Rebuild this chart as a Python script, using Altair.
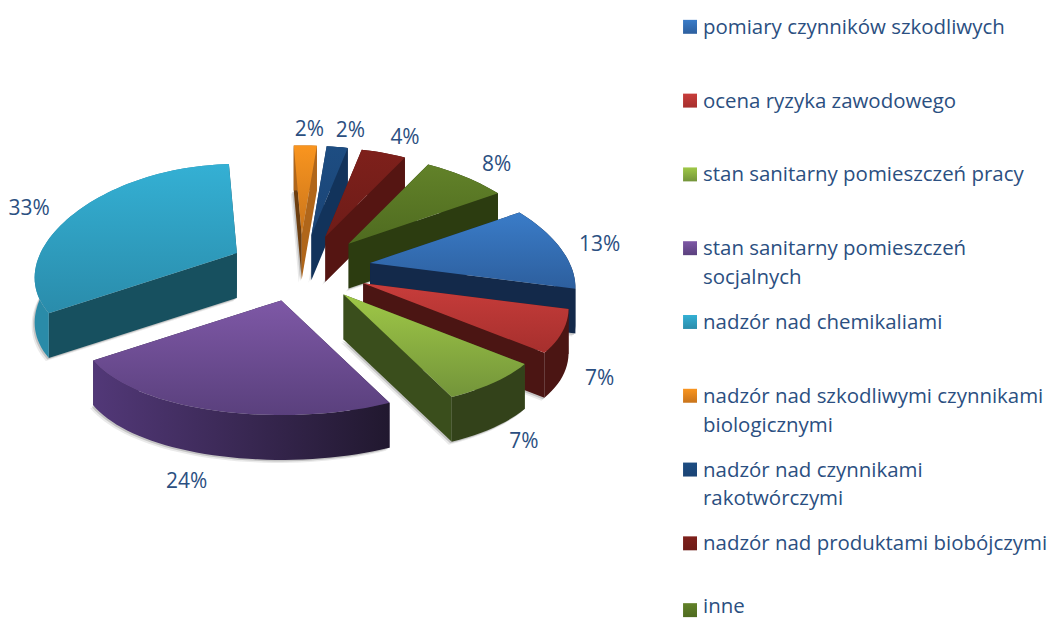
import math
import altair as alt
import pandas as pd

categories = ["pomiary czynników szkodliwych", "ocena ryzyka zawodowego", "stan sanitarny pomieszczeń pracy",
              "stan sanitarny pomieszczeń\nsocjalnych", "nadzór nad chemikaliami",
              "nadzór nad szkodliwymi czynnikami\nbiologicznymi", "nadzór nad czynnikami\nrakotwórczymi",
              "nadzór nad produktami biobójczymi", "inne"]
shares = [13, 7, 7, 22.6, 33.6, 2.3, 2.1, 4.4, 8]
labels = ["13%", "7%", "7%", "24%", "33%", "2%", "2%", "4%", "8%"]
top_a = ["#3a7cc8", "#c83d3b", "#9fc847", "#7e58a6", "#34b0d4", "#f9951f", "#1d4d82", "#7e201b", "#628229"]
top_b = ["#2d5f9e", "#a62f2d", "#73943a", "#5a407d", "#2a8cab", "#c9741b", "#1b4475", "#6e1c18", "#4f6b20"]
cut_end = ["#13294a", "#4b1513", "#3a4e1c", "#2e2145", "#17505f", "#b0661a", "#12335b", "#551512", "#2c3c10"]
cut_start = ["#13294a", "#4b1513", "#3a4e1c", "#2e2145", "#17505f", "#6d3e0f", "#12335b", "#551512", "#2c3c10"]
arc_a = ["#13294a", "#4b1513", "#33421a", "#523878", "#2a8ba8", "#b0661a", "#12335b", "#551512", "#2c3c10"]
arc_b = ["#13294a", "#4b1513", "#33421a", "#21182f", "#2a8ba8", "#b0661a", "#12335b", "#551512", "#2c3c10"]
draw_order = [5, 6, 7, 8, 4, 0, 1, 2, 3]

PW, PH = 672, 603
START = 57.6
CX, CY = 291, 260
EX, EY = 71, 33.6
R_RIGHT, R_LEFT, RY, KX, KY, DEPTH = 200, 197, 100.6, 0.238, 0.125, 45


def offset(t):
    a = math.radians(t)
    c = math.cos(a)
    s = math.sin(a)
    return (R_RIGHT if s > 0 else R_LEFT) * s / (1 + KX * c), -RY * c / (1 + KY * c)


x_scale = alt.Scale(domain=[0, PW], nice=False, zero=False)
y_scale = alt.Scale(domain=[PH, 0], nice=False, zero=False)


def poly(points, fill, opacity=1):
    df = pd.DataFrame({"x": [p[0] for p in points], "y": [p[1] for p in points],
                       "o": list(range(len(points)))})
    return alt.Chart(df).mark_line(fill=fill, fillOpacity=opacity, strokeWidth=0, interpolate="linear").encode(
        x=alt.X("x:Q", scale=x_scale, axis=None),
        y=alt.Y("y:Q", scale=y_scale, axis=None),
        order="o:Q")


def grad(a, b, x2, y2):
    return alt.LinearGradient(gradient="linear",
                              stops=[alt.GradientStop(color=a, offset=0), alt.GradientStop(color=b, offset=1)],
                              x1=0, x2=x2, y1=0, y2=y2)


def vgrad(a, b):
    return grad(a, b, 0, 1)


def hgrad(a, b):
    return grad(a, b, 1, 0)


cum = [START]
for s in shares:
    cum.append(cum[-1] + s * 3.6)

layers = []
label_rows = []
for i in draw_order:
    t0, t1 = cum[i], cum[i + 1]
    tm = (t0 + t1) / 2
    ax = CX + EX * math.sin(math.radians(tm))
    ay = CY - EY * math.cos(math.radians(tm))
    steps = max(4, int((t1 - t0) / 2))
    arc = []
    for k in range(steps + 1):
        dx, dy = offset(t0 + (t1 - t0) * k / steps)
        arc.append((ax + dx, ay + dy))
    down = [(p[0], p[1] + DEPTH) for p in arc]
    apex, apex_d = (ax, ay), (ax, ay + DEPTH)
    for sx, sy, op in ((-3, 3, 0.12), (-1.5, 1.5, 0.25)):
        layers.append(poly([(p[0] + sx, p[1] + sy) for p in [apex_d] + down], "#555555", op))
    layers.append(poly([apex, arc[0], down[0], apex_d], cut_start[i]))
    layers.append(poly([apex, arc[-1], down[-1], apex_d], cut_end[i]))
    layers.append(poly(arc + down[::-1], hgrad(arc_a[i], arc_b[i])))
    layers.append(poly([apex] + arc, vgrad(top_a[i], top_b[i])))
    dx, dy = offset(tm)
    a = math.radians(tm)
    s, c = math.sin(a), math.cos(a)
    lx = 40 * s ** 0.6 if s > 0 else 55 * s
    if c < -0.9:
        lx -= 12
    ly = -16 * c + (DEPTH + 20 * (-c - 0.7) if c < -0.3 else 0) + (6 if s < 0 else 0)
    label_rows.append({"x": ax + dx + lx, "y": ay + dy + ly, "t": labels[i]})

TEXT = "#2b4f81"
FONT = "Open Sans"
pct = alt.Chart(pd.DataFrame(label_rows)).mark_text(font=FONT, fontSize=21, color=TEXT).encode(
    x=alt.X("x:Q", scale=x_scale, axis=None),
    y=alt.Y("y:Q", scale=y_scale, axis=None),
    text="t:N")
pie = alt.layer(*layers, pct).properties(width=PW, height=PH)

legend_df = pd.DataFrame({"c": categories,
                          "row": [min(18 + 74 * k, 603) for k in range(9)],
                          "text_row": [min(18 + 74 * k, 599) for k in range(9)]})
squares = []
for i, c in enumerate(categories):
    squares.append(alt.Chart(legend_df[legend_df["c"] == c]).mark_square(size=196, opacity=1, fill=vgrad(top_a[i], top_b[i])).encode(
        x=alt.value(10),
        y=alt.Y("row:Q", scale=y_scale, axis=None)))
txt = alt.Chart(legend_df).mark_text(font=FONT, fontSize=20.5, color=TEXT, align="left", baseline="top", dy=-9,
                                     lineBreak="\n", lineHeight=29).encode(
    x=alt.value(23),
    y=alt.Y("text_row:Q", scale=y_scale, axis=None),
    text="c:N")
legend = alt.layer(*squares, txt).properties(width=368, height=PH)

chart = alt.hconcat(pie, legend, spacing=0, padding=0, background="white").configure_view(stroke=None)
chart.save("out.html", embed_options={"renderer": "svg", "actions": False})
